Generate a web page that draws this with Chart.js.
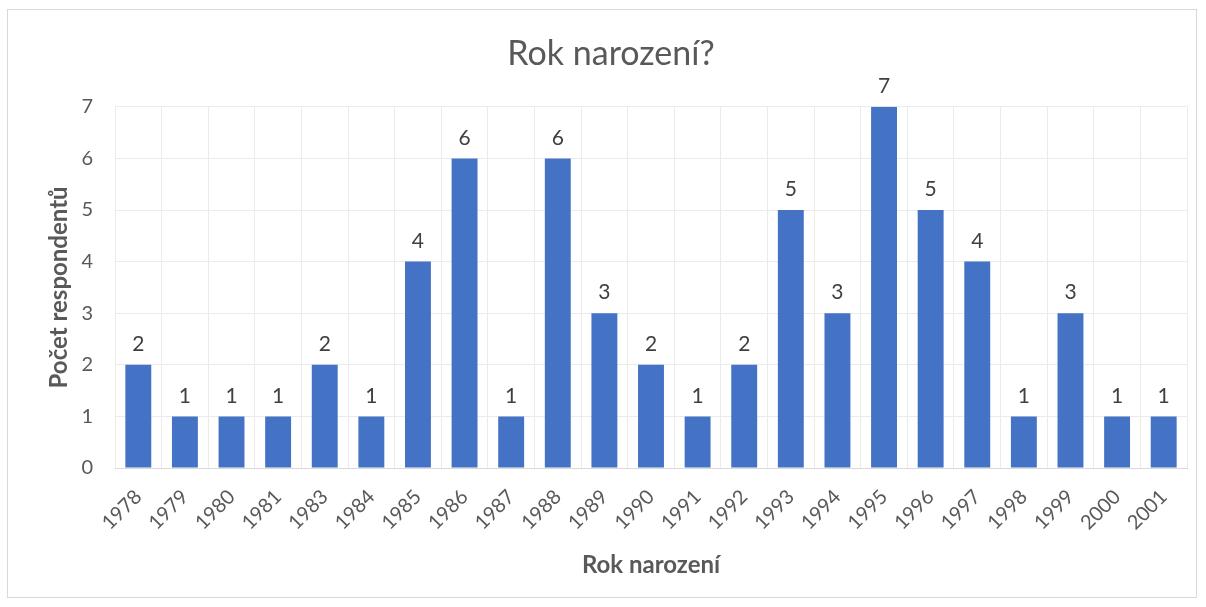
<!DOCTYPE html>
<html>
<head>
<meta charset="utf-8">
<script src="https://cdn.jsdelivr.net/npm/chart.js@4/dist/chart.umd.min.js"></script>
<style>
    html, body { margin: 0; padding: 0; background: #fff; }
    #wrap { position: relative; width: 1206px; height: 607px; }
    #frame { position: absolute; left: 7px; top: 9px; width: 1188px; height: 587px; border: 1px solid #d9d9d9; }
    canvas { position: absolute; left: 0; top: 0; }
</style>
</head>
<body>
<div id="wrap">
    <div id="frame"></div>
    <canvas id="yearChart" width="1206" height="607"></canvas>
</div>
<script>
// Data
const years = ['1978', '1979', '1980', '1981', '1983', '1984', '1985', '1986', '1987', '1988', '1989', '1990',
    '1991', '1992', '1993', '1994', '1995', '1996', '1997', '1998', '1999', '2000', '2001'];
const counts = [2, 1, 1, 1, 2, 1, 4, 6, 1, 6, 3, 2, 1, 2, 5, 3, 7, 5, 4, 1, 3, 1, 1];
const yTicks = [0, 1, 2, 3, 4, 5, 6, 7];

const fontName = 'Lato, "Open Sans", sans-serif';

// popisky hodnot nad sloupci
const valueLabels = {
    id: 'valueLabels',
    afterDatasetsDraw(chart) {
        const ctx = chart.ctx;
        const meta = chart.getDatasetMeta(0);
        ctx.save();
        ctx.font = '21px ' + fontName;
        ctx.fillStyle = '#404040';
        ctx.textAlign = 'center';
        ctx.textBaseline = 'bottom';
        meta.data.forEach((bar, i) => {
            ctx.fillText(counts[i], bar.x, bar.y - 10);
        });
        ctx.restore();
    }
};

new Chart(document.getElementById('yearChart'), {
    type: 'bar',
    data: {
        labels: years,
        datasets: [{
            data: counts,
            backgroundColor: '#4472c4',
            barPercentage: 0.556,
            categoryPercentage: 1
        }]
    },
    options: {
        responsive: false,
        animation: false,
        layout: {
            padding: { left: 35, right: 19, top: 34, bottom: 22 }
        },
        plugins: {
            legend: { display: false },
            tooltip: { enabled: false },
            title: {
                display: true,
                text: 'Rok narození?',
                color: '#595959',
                font: { family: fontName, size: 34, weight: 'normal' },
                padding: { top: 0, bottom: 32 }
            }
        },
        scales: {
            x: {
                grid: { color: '#ebebeb', offset: true, drawTicks: false },
                border: { color: '#d9d9d9' },
                ticks: {
                    color: '#595959',
                    font: { family: fontName, size: 20 },
                    maxRotation: 45,
                    minRotation: 45,
                    padding: 17,
                    autoSkip: false
                },
                title: {
                    display: true,
                    text: 'Rok narození',
                    color: '#595959',
                    font: { family: fontName, size: 24, weight: 'bold' },
                    padding: { top: 10, bottom: 5 }
                },
                afterFit(scale) { scale.height = 117; }
            },
            y: {
                min: 0,
                max: 7,
                afterBuildTicks(scale) { scale.ticks = yTicks.map(v => ({ value: v })); },
                grid: { color: '#ebebeb', drawTicks: false },
                border: { display: false },
                ticks: {
                    color: '#595959',
                    font: { family: fontName, size: 20 },
                    padding: 22
                },
                title: {
                    display: true,
                    text: 'Počet respondentů',
                    color: '#595959',
                    font: { family: fontName, size: 24, weight: 'bold' },
                    padding: { top: 10, bottom: 0 }
                },
                afterFit(scale) { scale.width = 80; }
            }
        }
    },
    plugins: [valueLabels]
});
</script>
</body>
</html>
